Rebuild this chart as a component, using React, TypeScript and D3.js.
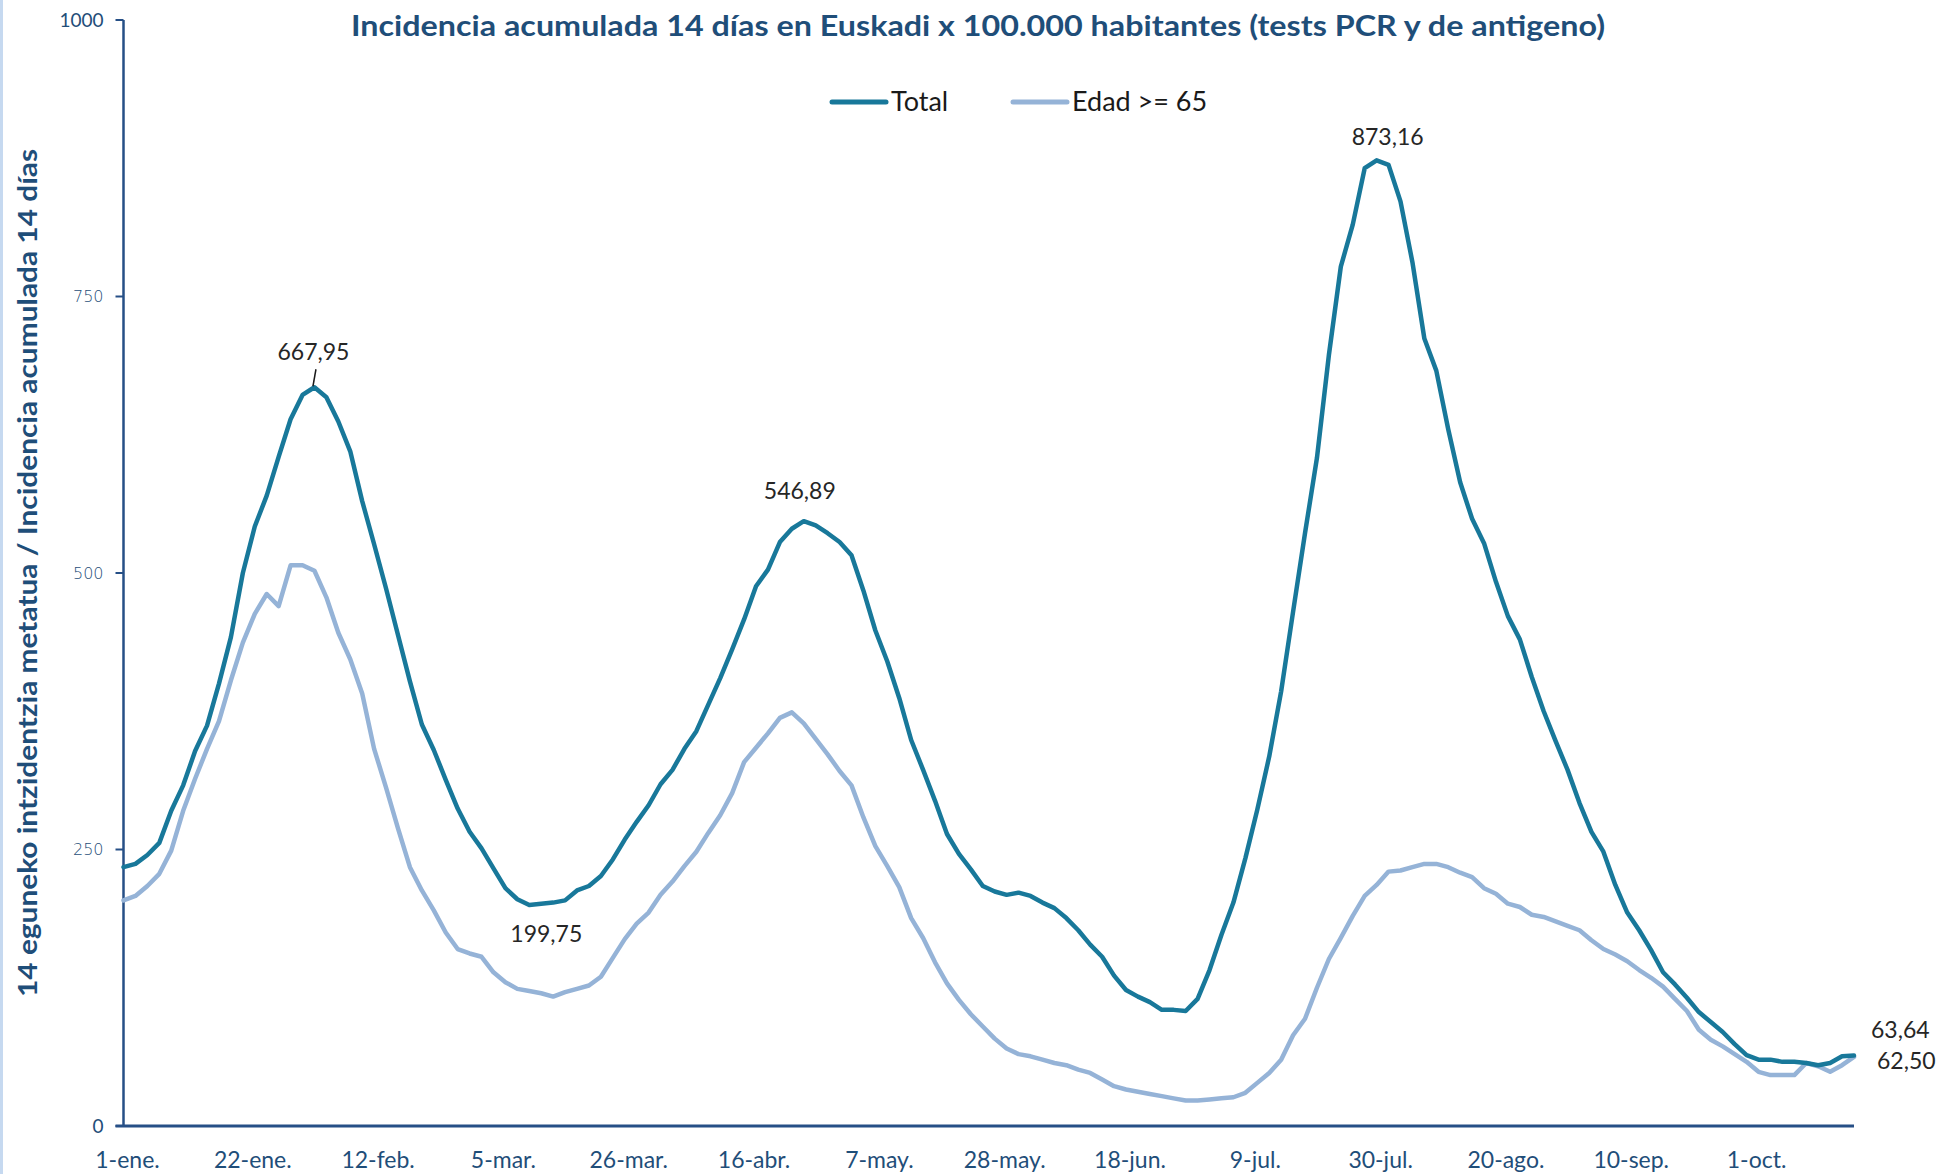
import React from "react";
import * as d3 from "d3";

const WIDTH = 1941;
const HEIGHT = 1174;
const PLOT = { left: 123.5, right: 1854, top: 20, bottom: 1126 };

const TITLE =
  "Incidencia acumulada 14 días en Euskadi x 100.000 habitantes (tests PCR y de antigeno)";
const Y_TITLE = "14 eguneko intzidentzia metatua / Incidencia acumulada 14 días";
const SERIES_NAMES = ["Total", "Edad >= 65"];
const COLORS = ["#18789a", "#95b3d7"];
const AXIS_COLOR = "#264f86";
const TEXT_BLUE = "#1f4e79";
const FONT = "Lato, 'Open Sans', sans-serif";

// days counted from 1-ene., one reading every second day
const DAYS = d3.range(0, 291, 2);

const TOTAL = [
  234, 237, 245, 256, 285, 308, 339, 362, 400, 442,
  500, 542, 570, 605, 639, 661, 667.95, 659, 637, 610,
  565, 526, 486, 444, 402, 363, 340, 313, 287, 266,
  251, 233, 215, 205, 199.75, 201, 202, 204, 213, 217,
  226, 241, 259, 275, 290, 309, 322, 341, 357, 381,
  405, 431, 458, 488, 503, 528, 540, 546.89, 543, 536,
  528, 516, 484, 448, 420, 387, 349, 322, 294, 264,
  246, 232, 217, 212, 209, 211, 208, 202, 197, 188,
  177, 164, 153, 136, 123, 117, 112, 105, 105, 104,
  115, 141, 173, 202, 242, 286, 334, 393, 465, 536,
  604, 697, 777, 815, 866, 873.16, 869, 836, 781, 712,
  683, 630, 582, 549, 527, 492, 461, 440, 406, 375,
  348, 322, 292, 266, 248, 218, 193, 177, 159, 139,
  128, 116, 103, 94, 85, 74, 64, 60, 60, 58,
  58, 57, 55, 57, 63, 63.64,
];

const OVER_65 = [
  204, 208, 217, 228, 249, 285, 314, 341, 366, 403,
  437, 463, 481, 470, 507, 507, 502, 478, 446, 422,
  391, 341, 306, 269, 234, 213, 195, 175, 160, 156,
  153, 139, 130, 124, 122, 120, 117, 121, 124, 127,
  135, 152, 169, 183, 193, 209, 221, 235, 248, 265,
  281, 301, 329, 342, 355, 369, 374, 364, 350, 336,
  321, 308, 279, 253, 235, 216, 188, 170, 148, 129,
  114, 101, 90, 79, 70, 65, 63, 60, 57, 55,
  51, 48, 42, 36, 33, 31, 29, 27, 25, 23,
  23, 24, 25, 26, 30, 39, 48, 60, 82, 97,
  125, 151, 170, 190, 208, 218, 230, 231, 234, 237,
  237, 234, 229, 225, 215, 210, 201, 198, 191, 189,
  185, 181, 177, 168, 160, 155, 149, 141, 134, 126,
  115, 104, 87, 78, 72, 65, 58, 49, 46, 46,
  46, 57, 54, 49, 55, 62.5,
];

const TICK_DAYS = [0, 21, 42, 63, 84, 105, 126, 147, 168, 189, 210, 231, 252, 273];
const TICK_LABELS = [
  "1-ene.", "22-ene.", "12-feb.", "5-mar.", "26-mar.", "16-abr.", "7-may.",
  "28-may.", "18-jun.", "9-jul.", "30-jul.", "20-ago.", "10-sep.", "1-oct.",
];
const Y_TICKS = [0, 250, 500, 750, 1000];

// data labels: which series, which day, and where the text sits from the point
const LABELS = [
  { series: 0, day: 32, text: "667,95", dx: -1, dy: -27, anchor: "middle", leader: true },
  { series: 0, day: 114, text: "546,89", dx: -4, dy: -22, anchor: "middle" },
  { series: 0, day: 210, text: "873,16", dx: 11, dy: -15, anchor: "middle" },
  { series: 0, day: 68, text: "199,75", dx: 17, dy: 37, anchor: "middle" },
  { series: 0, day: 290, text: "63,64", dx: 17, dy: -18, anchor: "start" },
  { series: 1, day: 290, text: "62,50", dx: 23, dy: 12, anchor: "start" },
];

export default function App() {
  const x = d3.scaleLinear().domain([0, 290]).range([PLOT.left, PLOT.right]);
  const y = d3.scaleLinear().domain([0, 1000]).range([PLOT.bottom, PLOT.top]);

  const series = [TOTAL, OVER_65];
  const line = d3
    .line<number>()
    .x((_, i) => x(DAYS[i]))
    .y((v) => y(v))
    .curve(d3.curveLinear);

  const valueAt = (s: number, day: number) => series[s][DAYS.indexOf(day)];

  return (
    <svg
      width={WIDTH}
      height={HEIGHT}
      style={{ position: "absolute", left: 0, top: 0, background: "#fff" }}
      fontFamily={FONT}
    >
      <rect x={0} y={0} width={WIDTH} height={HEIGHT} fill="#fff" />
      <rect x={0} y={0} width={3} height={HEIGHT} fill="#c6d9f0" />

      {/* title */}
      <text
        x={978}
        y={36}
        textAnchor="middle"
        fontSize={28}
        fontWeight="bold"
        fill={TEXT_BLUE}
        textLength={1254}
        lengthAdjust="spacingAndGlyphs"
      >
        {TITLE}
      </text>

      {/* legend */}
      {SERIES_NAMES.map((name, i) => {
        const lx = [832, 1013][i];
        return (
          <g key={name}>
            <line
              x1={lx}
              x2={lx + 54}
              y1={102}
              y2={102}
              stroke={COLORS[i]}
              strokeWidth={5}
              strokeLinecap="round"
            />
            <text x={lx + 59} y={111} fontSize={27} fill="#1a1a1a">
              {name}
            </text>
          </g>
        );
      })}

      {/* y axis title */}
      <text
        transform={`translate(37,${(149 + 997) / 2}) rotate(-90)`}
        textAnchor="middle"
        fontSize={26}
        fontWeight="bold"
        fill={TEXT_BLUE}
        textLength={848}
        lengthAdjust="spacingAndGlyphs"
      >
        {Y_TITLE}
      </text>

      {/* y axis */}
      {Y_TICKS.map((t) => {
        const wide = t !== 0 && t !== 1000;
        return (
          <g key={t}>
            <line
              x1={PLOT.left - 8}
              x2={PLOT.left}
              y1={y(t)}
              y2={y(t)}
              stroke={AXIS_COLOR}
              strokeWidth={2}
            />
            <text
              x={PLOT.left - 20}
              y={y(t)}
              dy="0.35em"
              textAnchor="end"
              fontSize={wide ? 16 : 19}
              fontFamily={wide ? "'DejaVu Sans', sans-serif" : FONT}
              fontWeight={wide ? 300 : 400}
              fill={TEXT_BLUE}
            >
              {t}
            </text>
          </g>
        );
      })}
      <line
        x1={PLOT.left}
        x2={PLOT.left}
        y1={PLOT.top}
        y2={PLOT.bottom}
        stroke={AXIS_COLOR}
        strokeWidth={2.5}
      />

      {/* x axis */}
      {TICK_DAYS.map((d, i) => (
        <text
          key={d}
          x={x(d) + 4}
          y={1168}
          textAnchor="middle"
          fontSize={23}
          fill={TEXT_BLUE}
        >
          {TICK_LABELS[i]}
        </text>
      ))}

      {/* series, light one underneath */}
      {[1, 0].map((s) => (
        <path
          key={s}
          d={line(series[s]) || ""}
          fill="none"
          stroke={COLORS[s]}
          strokeWidth={4.5}
          strokeLinejoin="round"
          strokeLinecap="round"
        />
      ))}

      <line
        x1={PLOT.left - 8}
        x2={PLOT.right}
        y1={PLOT.bottom}
        y2={PLOT.bottom}
        stroke={AXIS_COLOR}
        strokeWidth={3}
      />

      {/* data labels */}
      {LABELS.map((l) => {
        const px = x(l.day);
        const py = y(valueAt(l.series, l.day));
        return (
          <g key={l.text}>
            {l.leader && (
              <line
                x1={px + 1.5}
                x2={px - 1.5}
                y1={py - 18}
                y2={py - 1}
                stroke="#1a1a1a"
                strokeWidth={1.5}
              />
            )}
            <text
              x={px + l.dx}
              y={py + l.dy}
              textAnchor={l.anchor}
              fontSize={23}
              fill="#262626"
            >
              {l.text}
            </text>
          </g>
        );
      })}
    </svg>
  );
}
